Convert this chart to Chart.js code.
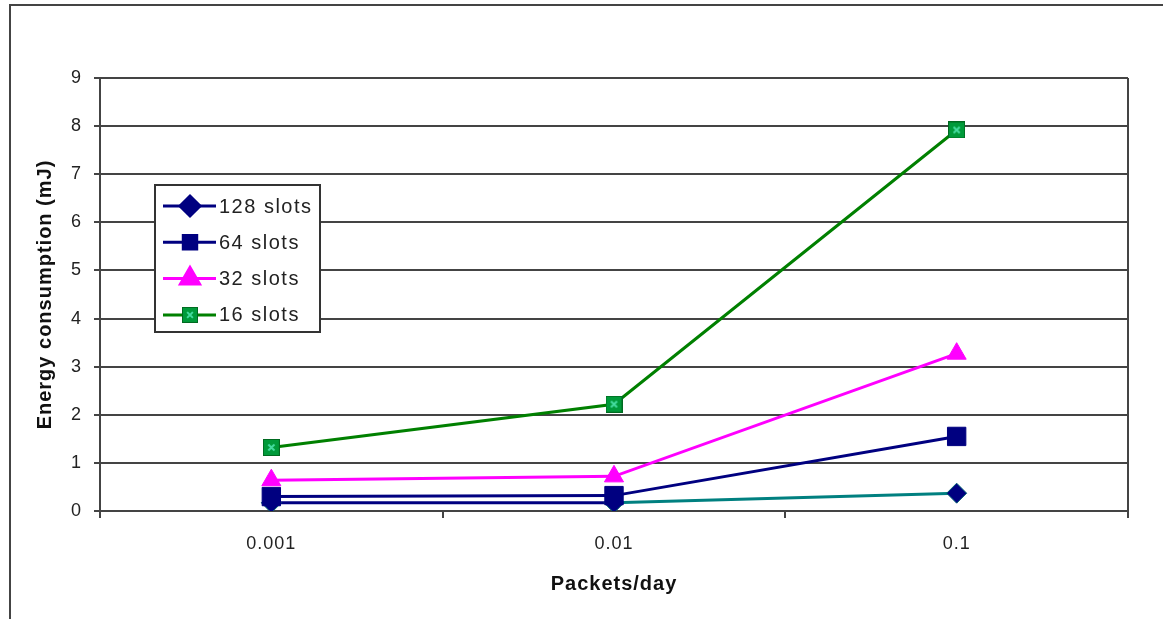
<!DOCTYPE html>
<html>
<head>
<meta charset="utf-8">
<script src="https://cdn.jsdelivr.net/npm/chart.js@4/dist/chart.umd.min.js"></script>
<style>
  body { margin: 0; background: #fff; }
  #chart { display: block; }
</style>
</head>
<body>
<canvas id="chart" width="1163" height="619"></canvas>
<script>
// data
const packetRates = ['0.001', '0.01', '0.1'];
const seriesNames = ['128 slots', '64 slots', '32 slots', '16 slots'];
const slots128 = [0.17, 0.17, 0.37];
const slots64 = [0.30, 0.32, 1.55];
const slots32 = [0.64, 0.72, 3.27];
const slots16 = [1.32, 2.22, 7.92];
const yMin = 0, yMax = 9, yStep = 1;

const FONT = '"Liberation Sans", Arial, sans-serif';
const TEXT = '#222';
const GRID = '#444';

function greenMark(s) {
    var c = document.createElement('canvas');
    c.width = c.height = s;
    var g = c.getContext('2d');
    g.fillStyle = '#009a3a';
    g.fillRect(0, 0, s, s);
    g.strokeStyle = '#006a20';
    g.lineWidth = 1;
    g.strokeRect(0.5, 0.5, s - 1, s - 1);
    g.strokeStyle = '#45dca0';
    g.lineWidth = 2;
    g.beginPath();
    g.moveTo(s * 0.32, s * 0.32); g.lineTo(s * 0.68, s * 0.68);
    g.moveTo(s * 0.68, s * 0.32); g.lineTo(s * 0.32, s * 0.68);
    g.stroke();
    return c;
}

const chartMark = greenMark(17);
const legendMark = greenMark(16);

// frame, plot border and the legend box
const excelBits = {
    id: 'excelBits',
    beforeLayout: function (chart) { chart.ctx.letterSpacing = '1px'; },
    beforeDraw: function (chart) {
        var ctx = chart.ctx;
        ctx.letterSpacing = '1px';
        ctx.save();
        ctx.strokeStyle = '#444';
        ctx.lineWidth = 2;
        ctx.beginPath();
        ctx.moveTo(10, 619);
        ctx.lineTo(10, 5);
        ctx.lineTo(1163, 5);
        ctx.stroke();
        ctx.restore();
    },
    afterDatasetsDraw: function (chart) {
        var ctx = chart.ctx;
        var a = chart.chartArea;
        ctx.save();
        ctx.strokeStyle = GRID;
        ctx.lineWidth = 2;
        ctx.beginPath();
        ctx.moveTo(a.right, a.top);
        ctx.lineTo(a.right, a.bottom);
        ctx.stroke();

        var bx = a.left + 55, by = a.top + 107, bw = 165, bh = 147;
        ctx.fillStyle = '#fff';
        ctx.fillRect(bx, by, bw, bh);
        ctx.strokeStyle = '#333';
        ctx.lineWidth = 2;
        ctx.strokeRect(bx, by, bw, bh);

        ctx.font = '20px ' + FONT;
        ctx.letterSpacing = '1.5px';
        ctx.textBaseline = 'middle';
        chart.data.datasets.forEach(function (ds, i) {
            var y = by + 21 + i * 36.3;
            ctx.strokeStyle = ds.borderColor;
            ctx.lineWidth = 3;
            ctx.beginPath();
            ctx.moveTo(bx + 8, y);
            ctx.lineTo(bx + 61, y);
            ctx.stroke();
            ctx.fillStyle = ds.pointBackgroundColor;
            ctx.strokeStyle = ds.legendBorder || ds.pointBorderColor;
            Chart.helpers.drawPoint(ctx, {
                pointStyle: ds.legendStyle || ds.pointStyle,
                radius: ds.legendRadius,
                rotation: 0,
                borderWidth: 1
            }, bx + 35, y);
            ctx.fillStyle = TEXT;
            ctx.fillText(ds.label, bx + 64, y + 1);
        });
        ctx.restore();
    }
};

var ctx = document.getElementById('chart');

new Chart(ctx, {
    type: 'line',
    data: {
        labels: packetRates,
        datasets: [{
            label: seriesNames[0],
            data: slots128,
            borderColor: '#000080',
            segment: {
                borderColor: function (c) { return c.p0DataIndex === 1 ? '#008080' : '#000080'; }
            },
            pointStyle: 'rectRot',
            pointRadius: 10,
            legendRadius: 10,
            pointBackgroundColor: '#000080',
            pointBorderColor: '#006070',
            legendBorder: '#000080',
            order: 3
        }, {
            label: seriesNames[1],
            data: slots64,
            borderColor: '#000080',
            pointStyle: 'rect',
            pointRadius: 13,
            legendRadius: 9.5,
            pointBackgroundColor: '#000080',
            pointBorderColor: '#000080',
            order: 2
        }, {
            label: seriesNames[2],
            data: slots32,
            borderColor: '#ff00ff',
            pointStyle: 'triangle',
            pointRadius: 11,
            legendRadius: 11,
            pointBackgroundColor: '#ff00ff',
            pointBorderColor: '#ff00ff',
            order: 1
        }, {
            label: seriesNames[3],
            data: slots16,
            borderColor: '#008000',
            pointStyle: chartMark,
            legendStyle: legendMark,
            pointRadius: 9,
            legendRadius: 8,
            pointBackgroundColor: '#009a3a',
            pointBorderColor: '#006a20',
            order: 0
        }]
    },
    options: {
        responsive: false,
        animation: false,
        events: [],
        layout: {
            padding: { left: 0, top: 78, right: 35, bottom: 0 }
        },
        elements: {
            line: { borderWidth: 3, tension: 0 },
            point: { borderWidth: 1 }
        },
        plugins: {
            legend: { display: false },
            tooltip: { enabled: false }
        },
        scales: {
            x: {
                offset: true,
                grid: {
                    offset: true,
                    drawOnChartArea: false,
                    drawTicks: true,
                    tickLength: 7,
                    color: GRID,
                    lineWidth: 2
                },
                border: { color: GRID, width: 2 },
                ticks: {
                    color: TEXT,
                    padding: 15,
                    maxRotation: 0,
                    font: { family: FONT, size: 18 }
                },
                title: {
                    display: true,
                    text: 'Packets/day',
                    color: '#111',
                    padding: { top: 0, bottom: 23 },
                    font: { family: FONT, size: 20, weight: 'bold' }
                },
                afterFit: function (s) { s.height = 108; }
            },
            y: {
                min: yMin,
                max: yMax,
                grid: {
                    color: GRID,
                    lineWidth: 2,
                    tickLength: 6
                },
                border: { color: GRID, width: 2 },
                ticks: {
                    stepSize: yStep,
                    color: TEXT,
                    padding: 12,
                    font: { family: FONT, size: 18 }
                },
                title: {
                    display: true,
                    text: 'Energy consumption (mJ)',
                    color: '#111',
                    padding: { top: 33, bottom: 0 },
                    font: { family: FONT, size: 20, weight: 'bold' }
                },
                afterFit: function (s) { s.width = 100; }
            }
        }
    },
    plugins: [excelBits]
});
</script>
</body>
</html>
